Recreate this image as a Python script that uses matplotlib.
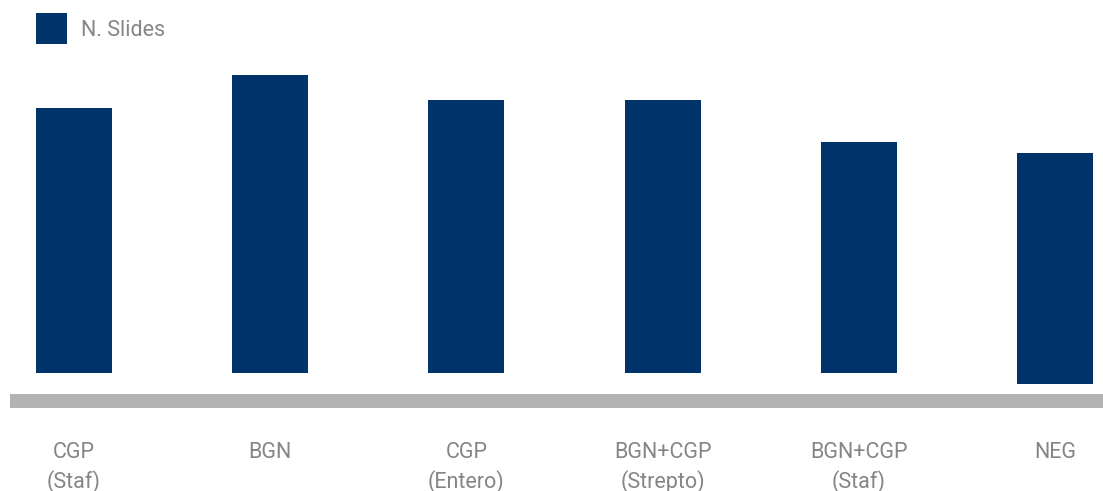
import matplotlib
matplotlib.use("Agg")
import matplotlib.pyplot as plt
from matplotlib.patches import Rectangle
from matplotlib import font_manager

categories = ["CGP\n(Staf)", "BGN", "CGP\n(Entero)", "BGN+CGP\n(Strepto)", "BGN+CGP\n(Staf)", "NEG"]
values = [24.1, 27.1, 24.8, 24.8, 21, 21]
bottoms = [0, 0, 0, 0, 0, -1]
series_name = "N. Slides"

BAR = "#003369"
GRAY_TXT = "#858585"
BAND = "#b3b3b3"

names = {f.name for f in font_manager.fontManager.ttflist}
fam = "Roboto" if "Roboto" in names else "DejaVu Sans"
plt.rcParams["font.family"] = [fam, "DejaVu Sans"]

W, H = 1103, 491
fig = plt.figure(figsize=(W / 100, H / 100), dpi=100)
ax = fig.add_axes([0, 0, 1, 1])
ax.set_axis_off()

unit = 11.0
base_px = 373
spacing = 196.2
x0_px = 74
ax.set_xlim(-x0_px / spacing, (W - x0_px) / spacing)
ax.set_ylim(-(H - base_px) / unit, base_px / unit)

x = list(range(len(categories)))
ax.bar(x, values, bottom=bottoms, width=76 / spacing, color=BAR, zorder=3)

# gray baseline band
ax.axhspan(-(394 - base_px) / unit, -(408 - base_px) / unit, xmin=10 / W, xmax=1, color=BAND, lw=0, zorder=2)

for i, lab in enumerate(categories):
    ax.text(i, -(442 - base_px) / unit, lab, ha="center", va="top", fontsize=15.5,
            color=GRAY_TXT, linespacing=1.4)

# legend
fig.patches.append(Rectangle((36 / W, 1 - 44 / H), 31 / W, 31 / H, transform=fig.transFigure,
                             facecolor=BAR, edgecolor="none"))
fig.text(81 / W, 1 - 30 / H, series_name, ha="left", va="center", fontsize=15.5, color=GRAY_TXT)

fig.savefig("out.png", dpi=100)
